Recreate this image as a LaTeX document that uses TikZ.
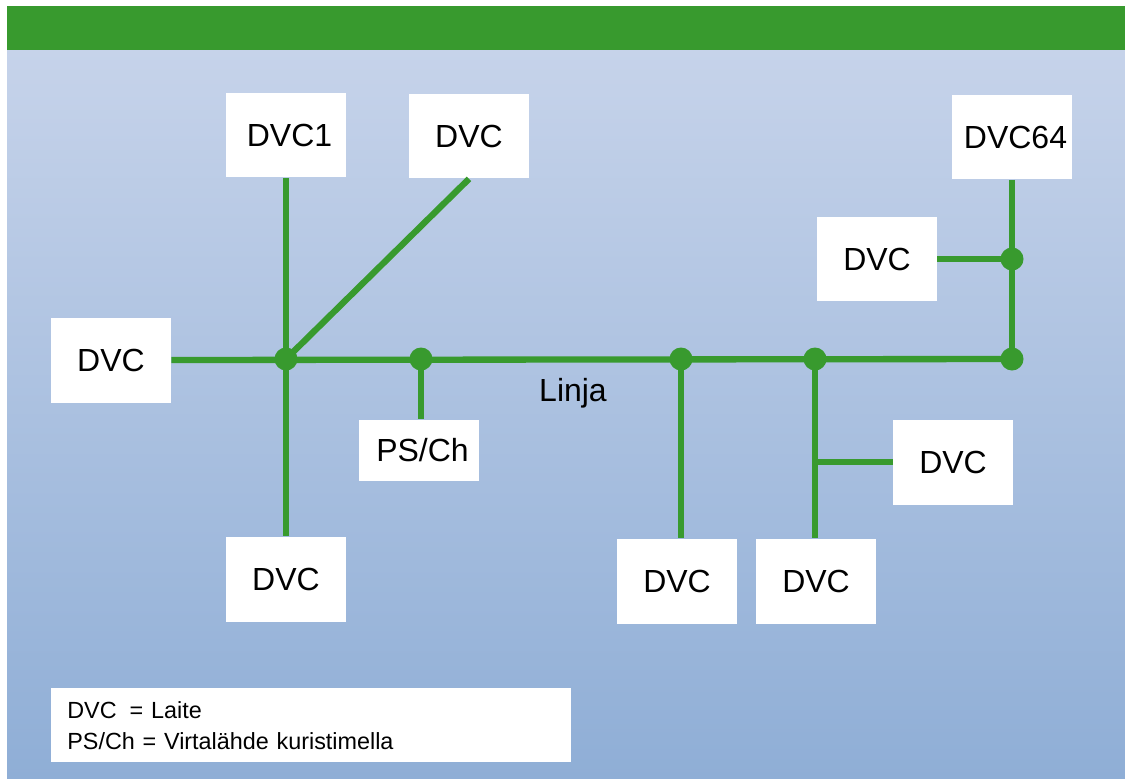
\documentclass[tikz,border=0pt]{standalone}
\usepackage{fontspec}
\setmainfont{Liberation Sans}
\usetikzlibrary{positioning}
\definecolor{busgreen}{RGB}{56,154,46}
\definecolor{bgtop}{RGB}{198,211,234}
\definecolor{bgbottom}{RGB}{143,174,214}

\begin{document}
\begin{tikzpicture}[
    x=0.02cm, y=-0.02cm,
    dvc/.style={rectangle, fill=white, inner sep=0pt, minimum width=2.4cm, minimum height=1.7cm, font=\fontsize{18.2}{22}\selectfont},
    psbox/.style={dvc, minimum height=1.22cm},
    bus/.style={draw=busgreen, line width=3.6pt},
    dot/.style={circle, fill=busgreen, inner sep=0pt, minimum size=0.46cm},
    legendbox/.style={rectangle, fill=white, anchor=north west, align=left, inner xsep=0.32cm, text width=9.76cm, minimum height=1.48cm, font=\fontsize{13.3}{17.5}\selectfont}
]
\useasboundingbox (0,0) rectangle (1125,778);

% background and top bar
\shade[top color=bgtop, bottom color=bgbottom] (7,50) rectangle (1125,778);
\fill[busgreen] (7,6) rectangle (1125,50);

% devices
\node[dvc] (dvc1) at (286,135) {\hspace{4pt}DVC1};
\node[dvc] (dvc2) at (469,136) {DVC};
\node[dvc] (dvc64) at (1012,137) {\hspace{4pt}DVC64};
\node[dvc] (dvcm) at (877,259) {DVC};
\node[dvc] (dvcl) at (111,360) {DVC};
\node[psbox] (psch) at (419,450) {\hspace{4pt}PS/Ch};
\node[dvc] (dvcr) at (953,462) {DVC};
\node[dvc] (dvcb1) at (286,579) {DVC};
\node[dvc] (dvcb2) at (677,581) {DVC};
\node[dvc] (dvcb3) at (816,581) {DVC};

% junctions
\node[dot] (j1) at (286,359) {};
\node[dot] (j2) at (421,359) {};
\node[dot] (j3) at (681,359) {};
\node[dot] (j4) at (815,359) {};
\node[dot] (j5) at (1012,359) {};
\node[dot] (j6) at (1012,259) {};

\node[font=\fontsize{18.2}{22}\selectfont] (linja) at (573,393) {Linja};

% bus lines
\draw[bus] (dvcl.east) -- (j5.center);
\draw[bus] (dvc1.south) -- (dvcb1.north);
\draw[bus] (j1.center) -- (dvc2.south);
\draw[bus] (j2.center) -- (psch.north -| j2);
\draw[bus] (j3.center) -- (dvcb2.north -| j3);
\draw[bus] (j4.center) -- (dvcb3.north -| j4);
\draw[bus] (dvcr.west) -- (dvcr.west -| j4);
\draw[bus] (dvc64.south) -- (j5.center);
\draw[bus] (dvcm.east) -- (j6.center);

% legend
\node[legendbox] (legend) at (51,688) {DVC\hspace{3pt} = Laite\\PS/Ch = Virtalähde kuristimella};
\end{tikzpicture}
\end{document}
